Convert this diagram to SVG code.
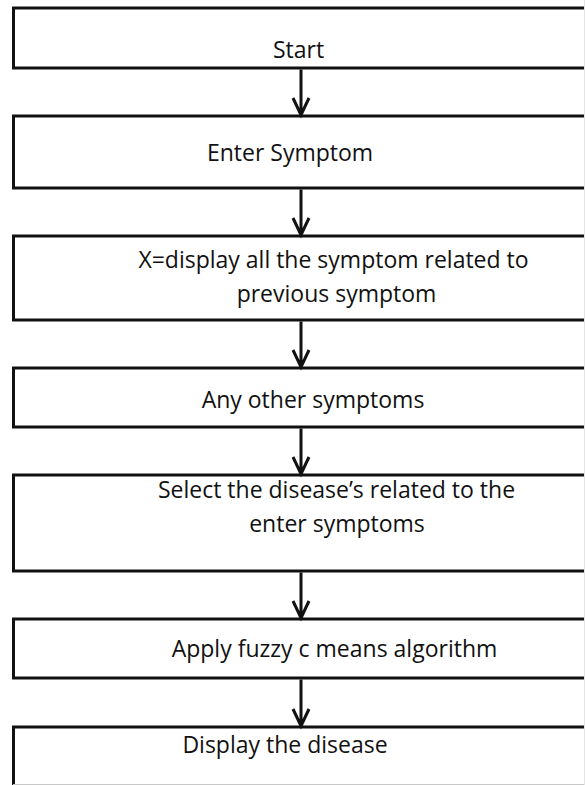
<svg xmlns="http://www.w3.org/2000/svg" width="585" height="785" viewBox="0 0 585 785">
<style>
.box{fill:none;stroke:#111;stroke-width:3}
.lbl{font-family:"Open Sans","Liberation Sans",sans-serif;font-size:23px;fill:#111;text-anchor:middle}
.arr{fill:none;stroke:#111;stroke-width:3;stroke-linecap:butt;stroke-linejoin:miter}
</style>
<rect width="585" height="785" fill="#ffffff"/>
<g id="n1"><rect class="box" x="13.5" y="8" width="600" height="60"/><text class="lbl" x="298.5" y="58">Start</text></g>
<g id="n2"><rect class="box" x="13.5" y="116" width="600" height="72"/><text class="lbl" x="290" y="161">Enter Symptom</text></g>
<g id="n3"><rect class="box" x="13.5" y="236" width="600" height="84"/><text class="lbl" x="333.5" y="268">X=display all the symptom related to</text><text class="lbl" x="336.5" y="302">previous symptom</text></g>
<g id="n4"><rect class="box" x="13.5" y="368" width="600" height="59"/><text class="lbl" x="313" y="408">Any other symptoms</text></g>
<g id="n5"><rect class="box" x="13.5" y="475" width="600" height="96"/><text class="lbl" x="336.5" y="498">Select the disease’s related to the</text><text class="lbl" x="337" y="532">enter symptoms</text></g>
<g id="n6"><rect class="box" x="13.5" y="619" width="600" height="59"/><text class="lbl" x="334.5" y="657">Apply fuzzy c means algorithm</text></g>
<g id="n7"><path class="box" d="M13.5,790 V727 H600"/><line x1="13" y1="784.5" x2="585" y2="784.5" stroke="#c8c8c8" stroke-width="1"/><text class="lbl" x="285" y="753">Display the disease</text></g>
<line x1="584.5" y1="0" x2="584.5" y2="785" stroke="#e4e4e4" stroke-width="1"/>
<g id="connectors">
<path class="arr" d="M301,69.5 V115 M293,98 L301,115 L309,98"/>
<path class="arr" d="M301,189.5 V235 M293,218 L301,235 L309,218"/>
<path class="arr" d="M301,321.5 V367 M293,350 L301,367 L309,350"/>
<path class="arr" d="M301,428.5 V474 M293,457 L301,474 L309,457"/>
<path class="arr" d="M301,572.5 V618 M293,601 L301,618 L309,601"/>
<path class="arr" d="M301,679.5 V726 M293,709 L301,726 L309,709"/>
</g>
</svg>
